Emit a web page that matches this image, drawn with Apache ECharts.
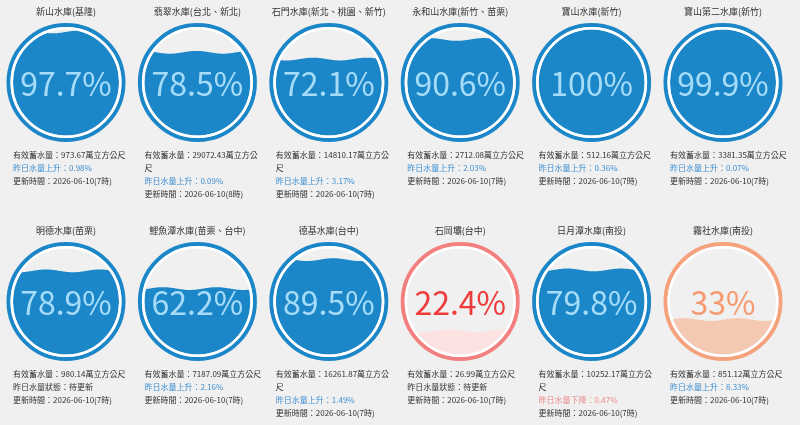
<!DOCTYPE html>
<html lang="zh-Hant">
<head>
<meta charset="UTF-8">
<title>水庫蓄水量</title>
<style>
  html, body { margin: 0; padding: 0; background: #f0f0f0; }
  #main { width: 800px; height: 425px; }
</style>
</head>
<body>
<div id="main"></div>
<script src="https://cdn.jsdelivr.net/npm/echarts@6/dist/echarts.min.js"></script>
<script>
// 資料
var names = ['新山水庫(基隆)', '翡翠水庫(台北、新北)', '石門水庫(新北、桃園、新竹)', '永和山水庫(新竹、苗栗)', '寶山水庫(新竹)', '寶山第二水庫(新竹)',
             '明德水庫(苗栗)', '鯉魚潭水庫(苗栗、台中)', '德基水庫(台中)', '石岡壩(台中)', '日月潭水庫(南投)', '霧社水庫(南投)'];
var percents = [97.7, 78.5, 72.1, 90.6, 100, 99.9, 78.9, 62.2, 89.5, 22.4, 79.8, 33];
var storage = ['973.67', '29072.43', '14810.17', '2712.08', '512.16', '3381.35', '980.14', '7187.09', '16261.87', '26.99', '10252.17', '851.12'];
var changes = [0.98, 0.09, 3.17, 2.03, 0.36, 0.07, null, 2.16, 1.49, null, -0.47, 8.33];
var updated = ['2026-06-10(7時)', '2026-06-10(8時)', '2026-06-10(7時)', '2026-06-10(7時)', '2026-06-10(7時)', '2026-06-10(7時)',
               '2026-06-10(7時)', '2026-06-10(7時)', '2026-06-10(7時)', '2026-06-10(7時)', '2026-06-10(7時)', '2026-06-10(7時)'];

var FONT = '"Noto Sans CJK TC", "Noto Sans", sans-serif';
var INFO_FONT = '8px ' + FONT;
var R = 59.5;               // 外圈半徑 (px)
var rowY = [82.5, 301.5];

function theme(p) {
  if (p < 30) return { ring: '#f47f7f', fill: '#fde2e2', text: '#ee3c3c' };
  if (p < 50) return { ring: '#f5a27c', fill: '#f5c9b1', text: '#f59a70' };
  return { ring: '#1b87c9', fill: '#1b87c9', text: '#a6dcf8' };
}

// 依寬度斷行
var measureCtx = document.createElement('canvas').getContext('2d');
function wrap(str, maxW) {
  measureCtx.font = INFO_FONT;
  var lines = [], cur = '';
  for (var i = 0; i < str.length; i++) {
    var t = cur + str[i];
    if (cur && measureCtx.measureText(t).width > maxW) { lines.push(cur); cur = str[i]; }
    else cur = t;
  }
  lines.push(cur);
  return lines;
}

function renderGauge(params, api) {
  var p = api.value(2);
  var c = api.coord([0, 0]);
  var unit = api.size([1, 1])[0];
  var col = theme(p);
  var ri = (unit - 6.5) / unit;
  var h = -ri + 2 * ri * p / 100;
  var amp = 1.4 / unit, k = 2 * Math.PI / 0.9, phase = params.seriesIndex * 1.7;
  var top = [], bottom = [], N = 120;
  for (var n = 0; n <= N; n++) {
    var x = -ri + 2 * ri * n / N;
    var edge = Math.sqrt(Math.max(ri * ri - x * x, 0));
    var w = h + amp * Math.sin(k * x + phase);
    var y = Math.max(Math.min(w, edge), -edge);
    top.push(api.coord([x, y]));
    bottom.unshift(api.coord([x, -edge]));
  }
  return {
    type: 'group',
    children: [
      { type: 'polygon', shape: { points: top.concat(bottom) }, style: { fill: col.fill } },
      { type: 'circle', shape: { cx: c[0], cy: c[1], r: unit - 2 }, style: { fill: 'none', stroke: col.ring, lineWidth: 4 } },
      { type: 'circle', shape: { cx: c[0], cy: c[1], r: unit - 5.2 }, style: { fill: 'none', stroke: '#ffffff', lineWidth: 2.5 } },
      { type: 'text', x: c[0], y: c[1] + 1, style: { text: p + '%', fill: col.text, font: '32px ' + FONT, align: 'center', verticalAlign: 'middle' } }
    ]
  };
}

var grids = [], xAxes = [], yAxes = [], series = [], graphics = [];
names.forEach(function (name, i) {
  var cx = 66 + 131.4 * (i % 6);
  var cy = rowY[Math.floor(i / 6)];
  grids.push({ left: cx - R, top: cy - R, width: 2 * R, height: 2 * R });
  xAxes.push({ gridIndex: i, type: 'value', min: -1, max: 1, show: false });
  yAxes.push({ gridIndex: i, type: 'value', min: -1, max: 1, show: false });
  series.push({
    type: 'custom', xAxisIndex: i, yAxisIndex: i, silent: true,
    renderItem: renderGauge, encode: { x: 0, y: 1 },
    data: [[0, 0, percents[i]]]
  });

  graphics.push({
    type: 'text', x: cx, y: cy - 70.5, silent: true,
    style: { text: name, fill: '#333', font: '9px ' + FONT, align: 'center', verticalAlign: 'middle' }
  });

  var ch = changes[i], chText, chColor;
  if (ch === null) { chText = '昨日水量狀態：待更新'; chColor = '#333'; }
  else if (ch >= 0) { chText = '昨日水量上升：' + ch.toFixed(2) + '%'; chColor = '#3d8fd2'; }
  else { chText = '昨日水量下降：' + Math.abs(ch).toFixed(2) + '%'; chColor = '#f08a8a'; }

  var lines = [];
  wrap('有效蓄水量：' + storage[i] + '萬立方公尺', 119).forEach(function (s) { lines.push([s, '#333']); });
  lines.push([chText, chColor]);
  lines.push(['更新時間：' + updated[i], '#333']);
  lines.forEach(function (ln, k) {
    graphics.push({
      type: 'text', x: cx - 53, y: cy + 72.5 + 13 * k, silent: true,
      style: { text: ln[0], fill: ln[1], font: INFO_FONT, align: 'left', verticalAlign: 'middle' }
    });
  });
});

var chart = echarts.init(document.getElementById('main'));
chart.setOption({
  backgroundColor: '#f0f0f0',
  animation: false,
  grid: grids,
  xAxis: xAxes,
  yAxis: yAxes,
  series: series,
  graphic: graphics
});
</script>
</body>
</html>
